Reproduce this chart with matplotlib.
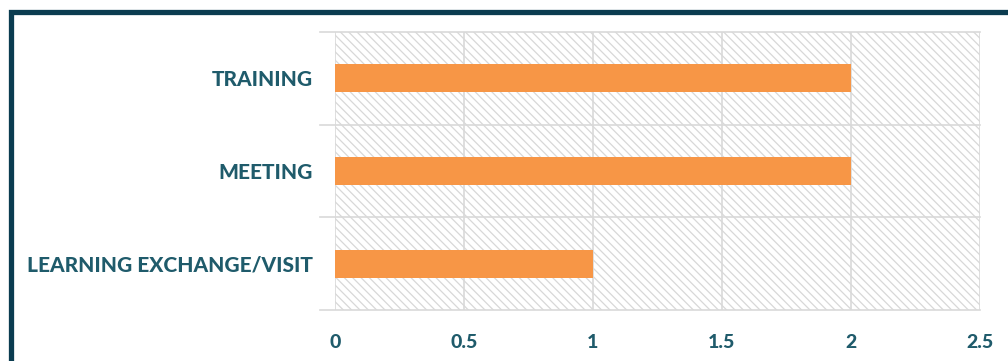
import matplotlib
matplotlib.use("Agg")
import matplotlib.pyplot as plt
from matplotlib.patches import Rectangle

categories = ["LEARNING EXCHANGE/VISIT", "MEETING", "TRAINING"]
values = [1, 2, 2]
xticks = [0, 0.5, 1, 1.5, 2, 2.5]
xtick_labels = ["0", "0.5", "1", "1.5", "2", "2.5"]

TEXT = "#1f5b6b"
BAR = "#f79646"
GRID = "#d9d9d9"
FRAME = "#0b3c50"

fig = plt.figure(figsize=(10.08, 3.61), dpi=100)
fig.patch.set_facecolor("white")

# dark frame (only top and left edges visible in the crop)
fig.patches.append(Rectangle((10.5 / 1008, -0.2), 1.5, 1.2 - 11.5 / 361,
                             transform=fig.transFigure, fill=False,
                             edgecolor=FRAME, linewidth=3.8, zorder=0))

ax = fig.add_axes([335 / 1008, 51 / 361, 645 / 1008, 278 / 361])
ax.set_xlim(0, 2.5)
ax.set_ylim(-0.5, 2.5)

# hatched plot background
plt.rcParams['hatch.linewidth'] = 0.9
ax.add_patch(Rectangle((0, -0.5), 2.5, 3, facecolor="white", edgecolor="#d8d8d8",
                       hatch="\\\\\\\\", linewidth=0, zorder=0))

ax.barh(range(len(categories)), values, height=0.3, color=BAR, zorder=3)

for x in xticks:
    ax.axvline(x, color=GRID, linewidth=1.2, zorder=1)
for y in [-0.5, 0.5, 1.5, 2.5]:
    ax.plot([-0.06, 2.5], [y, y], color=GRID, linewidth=1.2, zorder=1, clip_on=False)

for s in ax.spines.values():
    s.set_visible(False)

ax.set_xticks(xticks)
ax.set_xticklabels(xtick_labels)
ax.set_yticks(range(len(categories)))
ax.set_yticklabels(categories)
ax.tick_params(axis="both", length=0)
ax.tick_params(axis="x", pad=17, labelsize=14, labelcolor=TEXT)
ax.tick_params(axis="y", pad=16, labelsize=15, labelcolor=TEXT)
for lab in ax.get_xticklabels() + ax.get_yticklabels():
    lab.set_fontweight("black")
    lab.set_family("Lato")

fig.savefig("out.png", dpi=100)
